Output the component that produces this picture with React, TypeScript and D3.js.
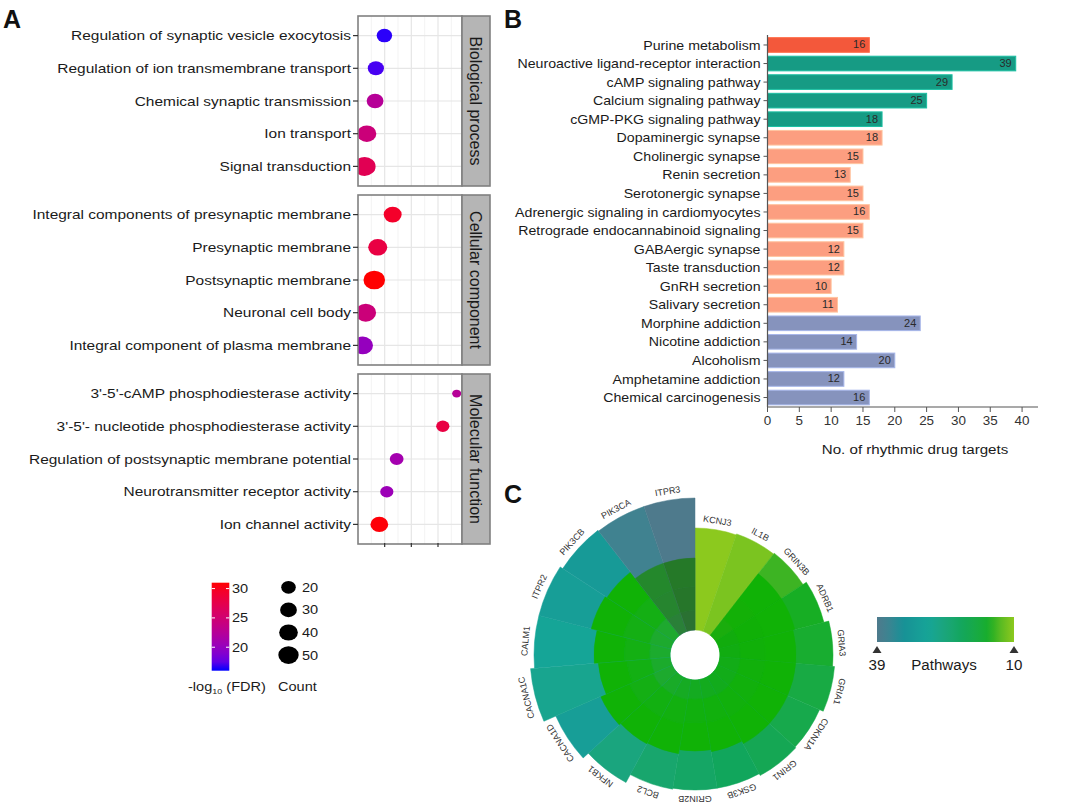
import * as d3 from "d3";

const FONT = "'Liberation Sans', Arial, sans-serif";

// ---------- Panel A: GO enrichment ----------
const goGroups = ["Biological process", "Cellular component", "Molecular function"];

const bpTerms = [
  "Regulation of synaptic vesicle exocytosis",
  "Regulation of ion transmembrane transport",
  "Chemical synaptic transmission",
  "Ion transport",
  "Signal transduction",
];
const bpEnrich = [0.99, 0.67, 0.64, 0.33, 0.25];
const bpCount = [24, 27, 30, 42, 60];
const bpFdr = [16.3, 16.8, 22.5, 24.5, 27];

const ccTerms = [
  "Integral components of presynaptic membrane",
  "Presynaptic membrane",
  "Postsynaptic membrane",
  "Neuronal cell body",
  "Integral component of plasma membrane",
];
const ccEnrich = [1.3, 0.74, 0.61, 0.29, 0.18];
const ccCount = [36, 42, 58, 52, 50];
const ccFdr = [29.5, 28, 31, 24.5, 20];

const mfTerms = [
  "3'-5'-cAMP phosphodiesterase activity",
  "3'-5'- nucleotide phosphodiesterase activity",
  "Regulation of postsynaptic membrane potential",
  "Neurotransmitter receptor activity",
  "Ion channel activity",
];
const mfEnrich = [3.7, 3.18, 1.45, 1.08, 0.8];
const mfCount = [4, 15, 17, 15, 35];
const mfFdr = [22.5, 28, 21, 20.5, 30.8];

const enrichTicks = [1, 2, 3];
const fdrTicks = [20, 25, 30];
const countTicks = [20, 30, 40, 50];

// ---------- Panel B: KEGG pathways ----------
const pathways = [
  "Purine metabolism",
  "Neuroactive ligand-receptor interaction",
  "cAMP signaling pathway",
  "Calcium signaling pathway",
  "cGMP-PKG signaling pathway",
  "Dopaminergic synapse",
  "Cholinergic synapse",
  "Renin secretion",
  "Serotonergic synapse",
  "Adrenergic signaling in cardiomyocytes",
  "Retrograde endocannabinoid signaling",
  "GABAergic synapse",
  "Taste transduction",
  "GnRH secretion",
  "Salivary secretion",
  "Morphine addiction",
  "Nicotine addiction",
  "Alcoholism",
  "Amphetamine addiction",
  "Chemical carcinogenesis",
];
const targetCounts = [16, 39, 29, 25, 18, 18, 15, 13, 15, 16, 15, 12, 12, 10, 11, 24, 14, 20, 12, 16];
const pathwayClass = [
  "metabolism",
  "signal", "signal", "signal", "signal",
  "organismal", "organismal", "organismal", "organismal", "organismal",
  "organismal", "organismal", "organismal", "organismal", "organismal",
  "disease", "disease", "disease", "disease", "disease",
];
const classNames = ["metabolism", "signal", "organismal", "disease"];
const classColors = ["#f3583b", "#169b84", "#fc9e80", "#8693bd"];
const countTicksB = [0, 5, 10, 15, 20, 25, 30, 35, 40];

// ---------- Panel C: gene wheel ----------
const genes = [
  "KCNJ3", "IL1B", "GRIN3B", "ADRB1", "GRIA3", "GRIA1", "CDKN1A", "GRIN1", "GSK3B", "GRIN2B",
  "BCL2", "NFKB1", "CACNA1D", "CACNA1C", "CALM1", "ITPR2", "PIK3CB", "PIK3CA", "ITPR3",
];
const genePathways = [10, 11, 14, 15, 16, 18, 19, 20, 21, 22, 23, 25, 30, 27, 28, 30, 31, 37, 39];
const geneReach = [102, 103, 104, 108, 113, 115, 111, 112, 110, 110, 111, 120, 127, 140, 136, 136, 133, 132, 132];
const geneCore = [0, 0, 78, 78, 76, 76, 76, 76, 73, 71, 75, 76, 78, 72, 76, 82, 80, 72, 72];
const pathwayStops = [39, 34, 28, 21, 15, 10];
const pathwayStopColors = ["#4e7a8c", "#178f96", "#15a597", "#11a65c", "#17ae24", "#8cc91e"];

// text stretched horizontally like the source figure
function T({ x, y, sx = 1, anchor = "start", size = 13, fill = "#1a1a1a", children }: any) {
  return (
    <text
      transform={`translate(${x},${y}) scale(${sx},1)`}
      dy="0.35em"
      textAnchor={anchor}
      fontSize={size}
      fill={fill}
    >
      {children}
    </text>
  );
}

function PanelA() {
  const x = d3.scaleLinear().domain([0, 3.9]).range([358, 462]);
  const rScale = d3.scaleSqrt().domain([0, 60]).range([2, 9.5]);
  const color = d3
    .scaleLinear<string>()
    .domain([16, 31])
    .range(["#0000ff", "#ff0000"])
    .interpolate(d3.interpolateLab);
  const stretch = 1.15;
  const panelTop = 16;
  const panelH = 170;
  const gap = 9;
  const groups = [
    { terms: bpTerms, enrich: bpEnrich, count: bpCount, fdr: bpFdr },
    { terms: ccTerms, enrich: ccEnrich, count: ccCount, fdr: ccFdr },
    { terms: mfTerms, enrich: mfEnrich, count: mfCount, fdr: mfFdr },
  ];
  const minorTicks = [0.5, 1.5, 2.5, 3.5];
  const legY = d3.scaleLinear().domain([16, 31]).range([670.7, 582.7]);
  const gradStops = d3.range(0, 1.001, 0.1);

  return (
    <g fontFamily={FONT}>
      <defs>
        <clipPath id="clipA">
          <rect x={358} y={0} width={104} height={560} />
        </clipPath>
        <linearGradient id="fdrGrad" x1="0" y1="1" x2="0" y2="0">
          {gradStops.map(t => (
            <stop key={t} offset={t} stopColor={color(16 + t * 15)} />
          ))}
        </linearGradient>
      </defs>
      {groups.map((g, gi) => {
        const top = panelTop + gi * (panelH + gap);
        const y = d3.scalePoint().domain(g.terms).range([top, top + panelH]).padding(0.6);
        return (
          <g key={gi}>
            <rect x={358} y={top} width={104} height={panelH} fill="#fff" />
            {minorTicks.map(t => (
              <line key={"m" + t} x1={x(t)} x2={x(t)} y1={top} y2={top + panelH} stroke="#f0f0f0" strokeWidth={0.8} />
            ))}
            {enrichTicks.map(t => (
              <line key={"M" + t} x1={x(t)} x2={x(t)} y1={top} y2={top + panelH} stroke="#e6e6e6" strokeWidth={1.2} />
            ))}
            {g.terms.map(term => (
              <line key={"h" + term} x1={358} x2={462} y1={y(term)} y2={y(term)} stroke="#e6e6e6" strokeWidth={1.2} />
            ))}
            <g clipPath="url(#clipA)">
              {g.terms.map((term, i) => (
                <ellipse
                  key={term}
                  cx={x(g.enrich[i])}
                  cy={y(term)}
                  rx={rScale(g.count[i]) * stretch}
                  ry={rScale(g.count[i])}
                  fill={color(g.fdr[i])}
                />
              ))}
            </g>
            <rect x={358} y={top} width={104} height={panelH} fill="none" stroke="#808080" strokeWidth={1.6} />
            <rect x={462} y={top} width={28} height={panelH} fill="#b5b5b5" stroke="#808080" strokeWidth={1.6} />
            <text
              transform={`translate(${476},${top + panelH / 2}) rotate(90)`}
              textAnchor="middle"
              dy="0.35em"
              fontSize={16}
              fill="#1a1a1a"
            >
              {goGroups[gi]}
            </text>
            {g.terms.map(term => (
              <g key={"l" + term}>
                <line x1={353} x2={358} y1={y(term)} y2={y(term)} stroke="#333" strokeWidth={1.2} />
                <T x={351} y={y(term)} sx={1.19} anchor="end">
                  {term}
                </T>
              </g>
            ))}
          </g>
        );
      })}
      {enrichTicks.map(t => (
        <line key={t} x1={x(t)} x2={x(t)} y1={543} y2={547} stroke="#333" strokeWidth={1.2} />
      ))}

      {/* colour legend */}
      <rect x={211.7} y={582.7} width={17.6} height={88} fill="url(#fdrGrad)" />
      {fdrTicks.map(t => (
        <g key={t}>
          <line x1={211.7} x2={215} y1={legY(t)} y2={legY(t)} stroke="#fff" strokeWidth={1} />
          <line x1={226} x2={229.3} y1={legY(t)} y2={legY(t)} stroke="#fff" strokeWidth={1} />
          <T x={232} y={legY(t)} sx={1.12}>
            {t}
          </T>
        </g>
      ))}
      <T x={188} y={686} sx={1.12}>
        -log
        <tspan fontSize={8} dy="3">10</tspan>
        <tspan dy="-3"> (FDR)</tspan>
      </T>

      {/* size legend */}
      {countTicks.map((c, i) => (
        <g key={c}>
          <ellipse cx={288.5} cy={587.3 + i * 22.6} rx={rScale(c) * stretch} ry={rScale(c)} fill="#000" />
          <T x={302} y={587.3 + i * 22.6} sx={1.12}>
            {c}
          </T>
        </g>
      ))}
      <T x={278} y={686} sx={1.12}>
        Count
      </T>
    </g>
  );
}

function PanelB() {
  const x = d3.scaleLinear().domain([0, 42.5]).range([767.5, 1038]);
  const y = d3.scaleBand().domain(pathways).range([35.7, 406.8]).paddingInner(0.21).paddingOuter(0.105);
  const fill = d3.scaleOrdinal<string>().domain(classNames).range(classColors);
  return (
    <g fontFamily={FONT}>
      {pathways.map((p, i) => {
        const c = fill(pathwayClass[i]);
        const yc = y(p)! + y.bandwidth() / 2;
        return (
          <g key={p}>
            <rect
              x={x(0)}
              y={y(p)}
              width={x(targetCounts[i]) - x(0)}
              height={y.bandwidth()}
              fill={c}
              stroke={d3.color(c)!.brighter(0.6).formatHex()}
              strokeWidth={1}
            />
            <T x={x(targetCounts[i]) - 4} y={yc} sx={1.1} anchor="end" size={10} fill="#2a2a2a">
              {targetCounts[i]}
            </T>
            <line x1={x(0) - 4} x2={x(0)} y1={yc} y2={yc} stroke="#555" />
            <T x={x(0) - 7} y={yc} sx={1.09} anchor="end" size={13}>
              {p}
            </T>
          </g>
        );
      })}
      <line x1={x(0)} x2={x(0)} y1={35} y2={407} stroke="#555" strokeWidth={1.2} />
      <line x1={x(0)} x2={x(42.5)} y1={407} y2={407} stroke="#555" strokeWidth={1.2} />
      {countTicksB.map(t => (
        <g key={t}>
          <line x1={x(t)} x2={x(t)} y1={407} y2={412} stroke="#555" />
          <T x={x(t)} y={421} sx={1.12} anchor="middle" size={12} fill="#333">
            {t}
          </T>
        </g>
      ))}
      <T x={915} y={449} sx={1.12} anchor="middle" size={13.5}>
        No.  of rhythmic drug targets
      </T>
    </g>
  );
}

function PanelC() {
  const cx = 695;
  const cy = 655;
  const radius = d3.scaleLinear().domain([0, 140]).range([25, 165]);
  const angle = d3.scaleBand().domain(genes).range([0, 2 * Math.PI]);
  const color = d3
    .scaleLinear<string>()
    .domain(pathwayStops)
    .range(pathwayStopColors)
    .interpolate(d3.interpolateLab);
  const arc = d3.arc<{ r0: number; r1: number; a0: number; a1: number }>()
    .innerRadius(d => d.r0)
    .outerRadius(d => d.r1)
    .startAngle(d => d.a0)
    .endAngle(d => d.a1);
  const coreGreen = "#10b206";
  const ringSplits = [0, 0.27, 0.6, 1];
  const ringMix = [0.85, 0.97, 1];
  const ringShade = [0.08, 0.03, 0];
  const legX = d3.scaleLinear().domain([39, 10]).range([877, 1014]);
  const legStops = d3.range(0, 1.001, 0.05);

  return (
    <g fontFamily={FONT}>
      <defs>
        <linearGradient id="pathGrad" x1="0" y1="0" x2="1" y2="0">
          {legStops.map(t => (
            <stop key={t} offset={t} stopColor={color(39 - t * 29)} />
          ))}
        </linearGradient>
      </defs>
      <g transform={`translate(${cx},${cy})`}>
        {genes.map((gname, i) => {
          const a0 = angle(gname)!;
          const a1 = a0 + angle.bandwidth();
          const base = color(genePathways[i]);
          const dark = Math.max(0, (genePathways[i] - 33) / 6) * 0.9;
          const rings = ringSplits.slice(0, -1).map((s, k) => {
            const mix = dark > 0 ? ringMix[k] * 0.8 : ringMix[k];
            const col = d3.color(d3.interpolateLab(base, coreGreen)(mix))!.darker(dark + ringShade[k]).formatHex();
            return {
              r0: radius(geneCore[i] * s),
              r1: radius(geneCore[i] * ringSplits[k + 1]),
              a0,
              a1,
              col,
            };
          });
          return (
            <g key={gname}>
              <path d={arc({ r0: radius(0), r1: radius(geneReach[i]), a0, a1 })!} fill={base} stroke={base} strokeWidth={0.5} />
              {geneCore[i] > 0 &&
                rings.map((rg, k) => <path key={k} d={arc(rg)!} fill={rg.col} stroke={rg.col} strokeWidth={0.5} />)}
            </g>
          );
        })}
        {genes.map((gname, i) => {
          const mid = ((angle(gname)! + angle.bandwidth() / 2) * 180) / Math.PI;
          return (
            <text
              key={"t" + gname}
              transform={`rotate(${mid}) translate(0,${-(radius(geneReach[i]) + 6)})`}
              textAnchor="middle"
              fontSize={9}
              fill="#333"
            >
              {gname}
            </text>
          );
        })}
      </g>
      {/* legend */}
      <rect x={877} y={617} width={137} height={25} fill="url(#pathGrad)" />
      {[39, 10].map(v => (
        <g key={v}>
          <path d={`M${legX(v) - 4.5},${653} L${legX(v) + 4.5},${653} L${legX(v)},${646} Z`} fill="#333" />
          <T x={legX(v)} y={665} sx={1.08} anchor="middle" size={14}>
            {v}
          </T>
        </g>
      ))}
      <T x={944} y={665} sx={1.08} anchor="middle" size={14}>
        Pathways
      </T>
    </g>
  );
}

export default function App() {
  return (
    <div>
      <style>{"body{margin:0}"}</style>
      <svg width={1065} height={812} style={{ display: "block", background: "#fff" }}>
        <g fontFamily={FONT} fontWeight="bold" fontSize={25} fill="#111">
          <text x={3} y={28}>A</text>
          <text x={504} y={28}>B</text>
          <text x={504} y={503}>C</text>
        </g>
        <PanelA />
        <PanelB />
        <PanelC />
      </svg>
    </div>
  );
}
